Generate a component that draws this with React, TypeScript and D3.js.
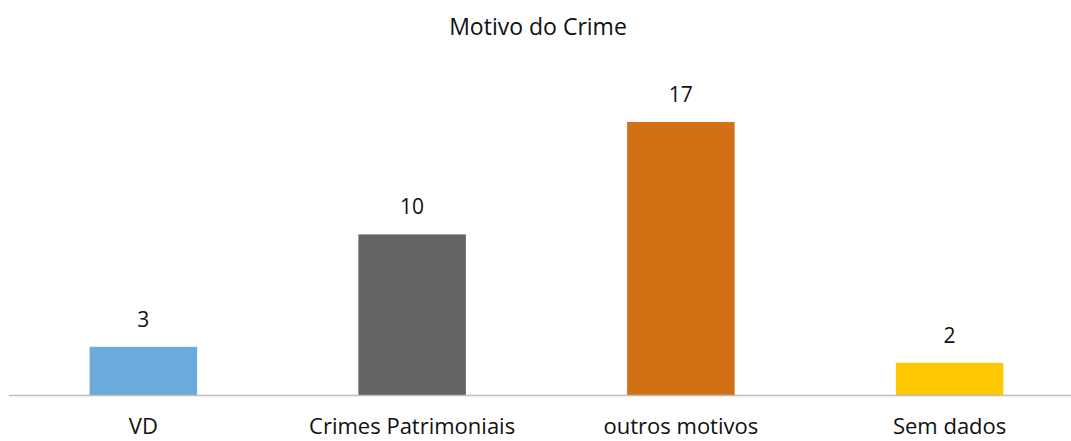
import React from "react";
import * as d3 from "d3";

const categories = ["VD", "Crimes Patrimoniais", "outros motivos", "Sem dados"];
const values = [3, 10, 17, 2];
const colors = ["#6BABDB", "#646464", "#D17014", "#FFC800"];
const title = "Motivo do Crime";

const width = 1071;
const height = 441;
const baseline = 395;
const fontFamily = "'Open Sans', 'Noto Sans', sans-serif";

const App = () => {
  const x = d3.scaleBand<string>()
    .domain(categories)
    .range([9, 1084])
    .paddingInner(0.6)
    .paddingOuter(0.3);

  // 17 -> top at 122
  const y = d3.scaleLinear().domain([0, 17]).range([baseline, 122]);

  return (
    <svg width={width} height={height} style={{ position: "absolute", left: 0, top: 0, background: "#fff" }}>
      <text x={538} y={35} textAnchor="middle" fontFamily={fontFamily} fontSize={23} fill="#111">
        {title}
      </text>
      {categories.map((c, i) => (
        <g key={c}>
          <rect
            x={x(c)}
            y={y(values[i])}
            width={x.bandwidth()}
            height={baseline - y(values[i])}
            fill={colors[i]}
          />
          <text
            x={(x(c) ?? 0) + x.bandwidth() / 2}
            y={y(values[i]) - 20}
            textAnchor="middle"
            fontFamily={fontFamily}
            fontSize={21}
            fill="#111"
          >
            {values[i]}
          </text>
          <text
            x={(x(c) ?? 0) + x.bandwidth() / 2}
            y={434}
            textAnchor="middle"
            fontFamily={fontFamily}
            fontSize={22}
            fill="#111"
          >
            {c}
          </text>
        </g>
      ))}
      <line x1={9} x2={width} y1={baseline + 0.5} y2={baseline + 0.5} stroke="#BDBDBD" strokeWidth={1.5} />
    </svg>
  );
};

export default App;
